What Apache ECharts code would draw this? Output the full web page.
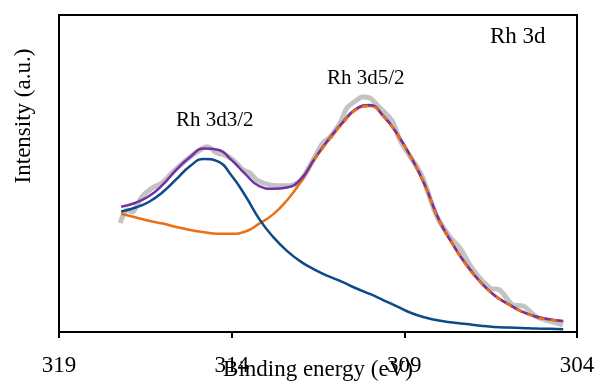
<!DOCTYPE html>
<html style="height: 100%">
<head>
    <meta charset="utf-8">
</head>
<body style="height: 100%; margin: 0">
<div id="container" style="width: 598px; height: 385px"></div>

<script type="text/javascript" src="https://cdn.jsdelivr.net/npm/echarts@6/dist/echarts.min.js"></script>

<script type="text/javascript">
    // binding energy (eV) / intensity (a.u.)
    var rawEv = [317.23, 317.03, 316.89, 316.60, 316.31, 316.02, 315.79, 315.58, 315.21, 314.92, 314.71, 314.42, 314.19, 313.96, 313.67, 313.47, 313.27, 312.89, 312.40, 312.02, 311.64, 311.36, 311.15, 310.86, 310.66, 310.37, 310.23, 310.00, 309.79, 309.50, 309.33, 309.13, 308.92, 308.63, 308.46, 308.34, 308.05, 307.68, 307.39, 307.01, 306.52, 306.23, 305.85, 305.56, 305.16, 304.58, 304.41];
    var rawInt = [34.4, 38.5, 37.9, 42.6, 45.4, 47.0, 49.5, 51.7, 55.2, 57.4, 58.4, 56.5, 55.8, 54.3, 51.1, 50.2, 47.9, 46.4, 46.1, 47.6, 54.3, 59.6, 61.5, 65.9, 70.7, 73.2, 74.1, 73.8, 71.6, 68.5, 66.2, 60.6, 56.8, 52.0, 48.5, 44.8, 36.3, 30.0, 26.5, 19.6, 13.9, 13.2, 8.5, 8.2, 4.7, 2.8, 2.2];

    // fitted curves share one energy grid
    var fitEv = [317.2, 316.8, 316.4, 316.0, 315.6, 315.2, 314.8, 314.4, 314.0, 313.6, 313.2, 312.8, 312.4, 312.0, 311.6, 311.2, 310.8, 310.4, 310.0, 309.6, 309.2, 308.8, 308.4, 308.0, 307.6, 307.2, 306.8, 306.4, 306.0, 305.6, 305.2, 304.8, 304.4];
    var envelope = [39.5, 40.7, 42.8, 46.4, 51.2, 55.2, 57.9, 57.5, 54.2, 49.8, 46.0, 45.2, 45.6, 48.2, 54.7, 60.7, 66.0, 70.4, 71.6, 68.1, 62.4, 55.1, 46.3, 35.5, 27.8, 21.2, 15.8, 11.7, 8.9, 6.5, 4.9, 4.0, 3.5];
    var rh3d52 = [37.3, 36.2, 35.1, 34.2, 33.1, 32.2, 31.5, 31.0, 31.0, 31.7, 34.2, 37.1, 41.5, 47.3, 54.4, 60.4, 65.7, 70.1, 71.3, 67.9, 62.2, 54.9, 46.1, 35.3, 27.6, 21.0, 15.7, 11.6, 8.8, 6.4, 4.8, 3.9, 3.4];
    var rh3d32 = [38.0, 39.2, 41.0, 44.1, 48.2, 52.4, 54.6, 53.8, 49.3, 42.9, 35.6, 30.0, 25.6, 22.2, 19.7, 17.6, 15.8, 13.8, 12.0, 10.0, 8.0, 6.0, 4.6, 3.6, 3.0, 2.5, 2.0, 1.6, 1.4, 1.3, 1.1, 1.0, 0.9];

    function pairs(xs, ys) {
        return xs.map(function (x, i) { return [x, ys[i]]; });
    }

    var serif = 'Liberation Serif';
    var dom = document.getElementById('container');
    var myChart = echarts.init(dom);

    // where the 3d5/2 component lies on the envelope it is drawn dashed on top
    var overlap = pairs(fitEv, rh3d52).filter(function (p) { return p[0] <= 311.7; });

    var option = {
        animation: false,
        grid: {
            left: 59, right: 21, top: 15, bottom: 53,
            outerBoundsMode: 'none',
            show: true, borderColor: '#000', borderWidth: 2
        },
        xAxis: {
            type: 'value',
            inverse: true,
            min: 304, max: 319, interval: 5,
            name: 'Binding energy (eV)',
            nameLocation: 'middle',
            nameGap: 26,
            nameMoveOverlap: false,
            nameTextStyle: { fontFamily: serif, fontSize: 23, color: '#000' },
            axisLine: { lineStyle: { color: '#000', width: 2 } },
            axisTick: { show: true, length: 6, lineStyle: { color: '#000', width: 2 } },
            axisLabel: { fontFamily: serif, fontSize: 23, color: '#000', margin: 22 },
            splitLine: { show: false }
        },
        yAxis: {
            type: 'value',
            min: 0, max: 100,
            axisLine: { show: true, lineStyle: { color: '#000', width: 2 } },
            axisTick: { show: false },
            axisLabel: { show: false },
            splitLine: { show: false }
        },
        graphic: [
            { type: 'text', x: 24, y: 116, rotation: Math.PI / 2,
              style: { text: 'Intensity (a.u.)', font: '23px "Liberation Serif"', fill: '#000', textAlign: 'center', textVerticalAlign: 'middle' } },
            { type: 'text', x: 490, y: 37,
              style: { text: 'Rh 3d', font: '23px "Liberation Serif"', fill: '#000', textAlign: 'left', textVerticalAlign: 'middle' } },
            { type: 'text', x: 327, y: 78,
              style: { text: 'Rh 3d5/2', font: '21px "Liberation Serif"', fill: '#000', textAlign: 'left', textVerticalAlign: 'middle' } },
            { type: 'text', x: 176, y: 120,
              style: { text: 'Rh 3d3/2', font: '21px "Liberation Serif"', fill: '#000', textAlign: 'left', textVerticalAlign: 'middle' } }
        ],
        series: [
            { type: 'line', data: pairs(rawEv, rawInt), smooth: 0.3, symbol: 'none',
              lineStyle: { color: '#C3C3C3', width: 5 } },
            { type: 'line', data: pairs(fitEv, rh3d52), smooth: 0.5, symbol: 'none',
              lineStyle: { color: '#EC6F14', width: 2.5 } },
            { type: 'line', data: pairs(fitEv, rh3d32), smooth: 0.5, symbol: 'none',
              lineStyle: { color: '#0D4A88', width: 2.5 } },
            { type: 'line', data: pairs(fitEv, envelope), smooth: 0.5, symbol: 'none',
              lineStyle: { color: '#7232A2', width: 2.5 } },
            { type: 'line', data: overlap, smooth: 0.5, symbol: 'none',
              lineStyle: { color: '#EC6F14', width: 2.5, type: [6, 6] } }
        ]
    };

    myChart.setOption(option);
</script>
</body>
</html>
